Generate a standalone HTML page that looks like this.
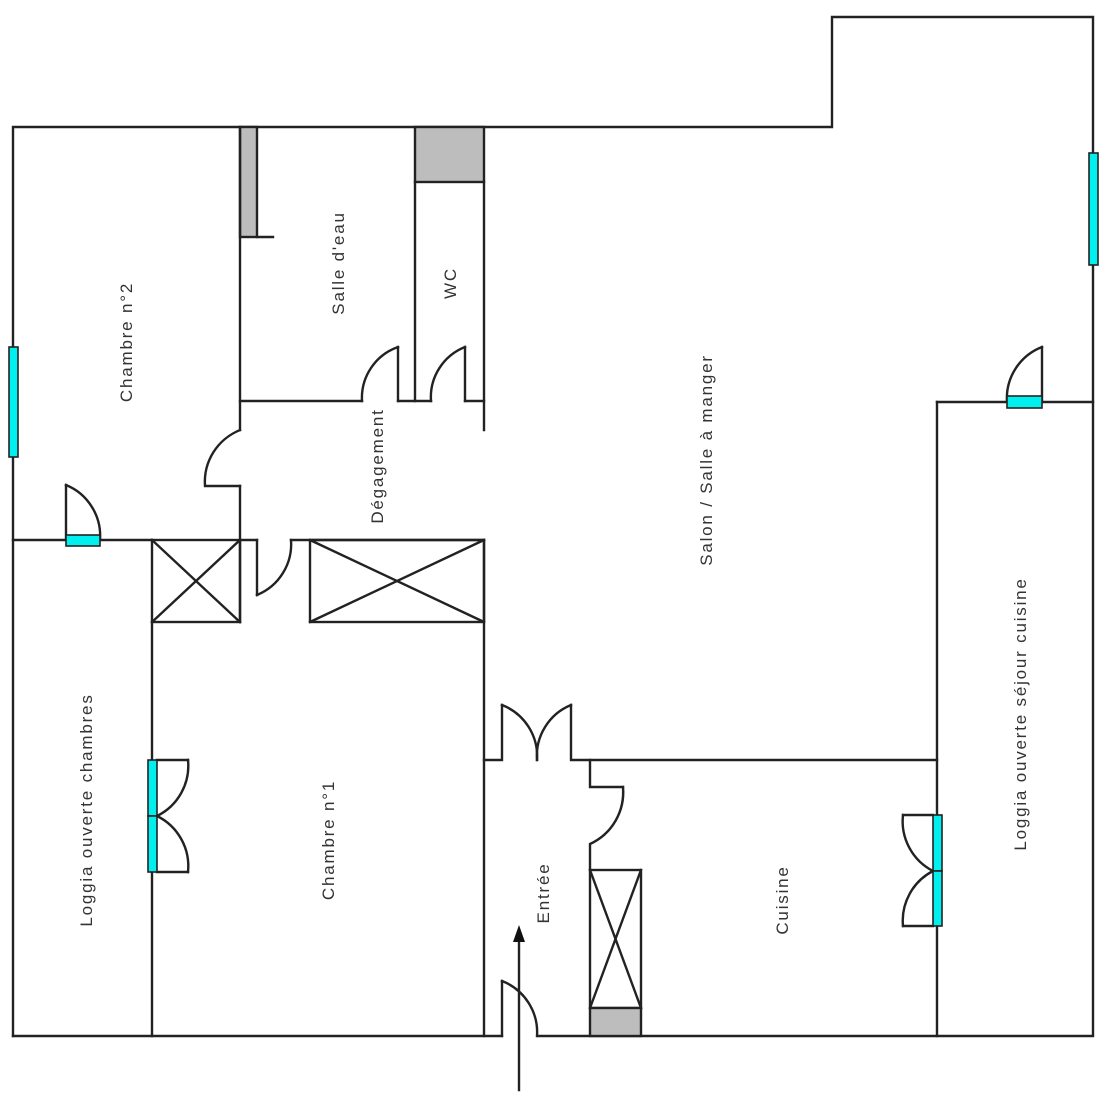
<!DOCTYPE html>
<html><head><meta charset="utf-8"><style>
html,body{margin:0;padding:0;background:#fff;width:1100px;height:1100px;overflow:hidden}
svg{display:block}
text{font-family:"Liberation Sans",sans-serif;font-size:17px;fill:#333;letter-spacing:1.8px}
</style></head><body>
<svg width="1100" height="1100" viewBox="0 0 1100 1100" xmlns="http://www.w3.org/2000/svg">
<g stroke="#222" stroke-width="2.4" fill="none" stroke-linecap="square">
<polyline points="13,1036 13,127 832,127 832,17 1093,17 1093,1036 538,1036"/>
<polyline points="13,1036 502,1036"/>
<rect x="240" y="127" width="17" height="110" fill="#bdbdbd"/>
<line x1="257" y1="237" x2="273" y2="237"/>
<rect x="415" y="127" width="69" height="55" fill="#bdbdbd"/>
<line x1="240" y1="127" x2="240" y2="430"/>
<line x1="240" y1="486" x2="240" y2="622"/>
<line x1="415" y1="182" x2="415" y2="401"/>
<line x1="484" y1="182" x2="484" y2="430"/>
<line x1="240" y1="401" x2="362" y2="401"/>
<line x1="398" y1="401" x2="431" y2="401"/>
<line x1="465" y1="401" x2="484" y2="401"/>
<line x1="398" y1="401" x2="398" y2="347"/>
<path d="M398,347 A54,54 0 0 0 362,401"/>
<line x1="465" y1="401" x2="465" y2="347"/>
<path d="M465,347 A54,54 0 0 0 431,401"/>
<path d="M240,430 A56,56 0 0 0 205,486 L240,486"/>
<line x1="13" y1="540" x2="152" y2="540"/>
<line x1="66" y1="540" x2="66" y2="485"/>
<path d="M66,485 A55,55 0 0 1 100,540"/>
<rect x="152" y="540" width="88" height="82"/>
<line x1="152" y1="540" x2="240" y2="622"/><line x1="240" y1="540" x2="152" y2="622"/>
<line x1="240" y1="540" x2="257" y2="540"/>
<line x1="257" y1="540" x2="257" y2="595"/>
<path d="M257,595 A55,55 0 0 0 291,540"/>
<line x1="291" y1="540" x2="484" y2="540"/>
<rect x="310" y="540" width="174" height="82"/>
<line x1="310" y1="540" x2="484" y2="622"/><line x1="484" y1="540" x2="310" y2="622"/>
<line x1="152" y1="622" x2="152" y2="1036"/>
<line x1="484" y1="540" x2="484" y2="1036"/>
<polyline points="484,760 502,760 502,705"/>
<path d="M502,705 A55,55 0 0 1 537,760"/>
<path d="M571,705 A55,55 0 0 0 537,760"/>
<polyline points="571,705 571,760 937,760"/>
<polyline points="590,760 590,787 623,787"/>
<path d="M623,787 A57,57 0 0 1 590,844 L590,870"/>
<rect x="590" y="870" width="51" height="138"/>
<line x1="590" y1="870" x2="641" y2="1008"/><line x1="641" y1="870" x2="590" y2="1008"/>
<rect x="590" y="1008" width="51" height="28" fill="#bdbdbd"/>
<line x1="502" y1="1036" x2="502" y2="981"/>
<path d="M502,981 A55,55 0 0 1 537,1036"/>
<line x1="937" y1="402" x2="937" y2="1036"/>
<line x1="937" y1="402" x2="1093" y2="402"/>
<line x1="1042" y1="402" x2="1042" y2="347"/>
<path d="M1042,347 A55,55 0 0 0 1007,402"/>
<line x1="157" y1="760" x2="188" y2="760"/>
<path d="M188,760 A56,56 0 0 1 157,816"/>
<path d="M157,816 A56,56 0 0 1 188,872"/>
<line x1="157" y1="872" x2="188" y2="872"/>
<line x1="933" y1="815" x2="903" y2="815"/>
<path d="M903,815 A56,56 0 0 0 933,871"/>
<path d="M933,871 A56,56 0 0 0 903,926"/>
<line x1="933" y1="926" x2="903" y2="926"/>
<line x1="519" y1="1090" x2="519" y2="940"/>
</g>
<polygon points="519,925 513,942 525,942" fill="#111"/>
<g fill="#00f0f0" stroke="#222" stroke-width="1.6">
<rect x="9" y="347" width="9" height="110"/>
<rect x="66" y="535" width="34" height="11"/>
<rect x="148" y="760" width="9" height="56"/>
<rect x="148" y="816" width="9" height="56"/>
<rect x="933" y="815" width="9" height="56"/>
<rect x="933" y="871" width="9" height="55"/>
<rect x="1007" y="396" width="35" height="12"/>
<rect x="1089" y="153" width="9" height="112"/>
</g>
<g text-anchor="middle">
<text transform="translate(132,342) rotate(-90)">Chambre n°2</text>
<text transform="translate(344,263) rotate(-90)">Salle d'eau</text>
<text transform="translate(456,283) rotate(-90)">WC</text>
<text transform="translate(383,466) rotate(-90)">Dégagement</text>
<text transform="translate(712,460) rotate(-90)">Salon / Salle à manger</text>
<text transform="translate(1026,714) rotate(-90)">Loggia ouverte séjour cuisine</text>
<text transform="translate(92,810) rotate(-90)">Loggia ouverte chambres</text>
<text transform="translate(334,840) rotate(-90)">Chambre n°1</text>
<text transform="translate(549,893) rotate(-90)">Entrée</text>
<text transform="translate(788,900) rotate(-90)">Cuisine</text>
</g>
</svg>
</body></html>
